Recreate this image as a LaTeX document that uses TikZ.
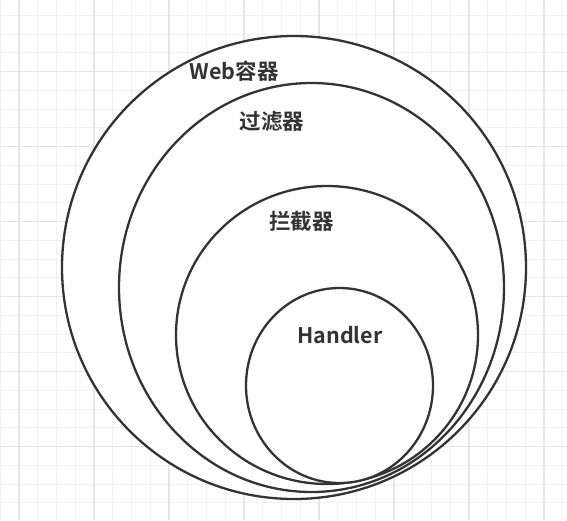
\documentclass[tikz,border=0pt]{standalone}
\usepackage{fontspec}
\newfontfamily\lblfont{Noto Sans CJK SC Bold}
\usetikzlibrary{shapes.geometric}
\definecolor{minorgrid}{HTML}{F2F2F2}
\definecolor{majorgrid}{HTML}{E6E6E6}
\definecolor{ink}{HTML}{333333}
\tikzset{
  ring/.style={shape=ellipse, draw=ink, fill=white, line width=2.3pt, inner sep=0pt, outer sep=0pt},
  lbl/.style={font=\lblfont\fontsize{21.5}{23}\selectfont, text=ink, inner sep=0pt},
  gminor/.style={draw=minorgrid, line width=1pt},
  gmajor/.style={draw=majorgrid, line width=1.2pt}
}
\begin{document}
\begin{tikzpicture}[x=1pt,y=-1pt]
\useasboundingbox (0,0) rectangle (567,520);
\clip (0,0) rectangle (567,520);
\fill[white] (0,0) rectangle (567,520);
\foreach \k in {0,...,30} { \draw[gminor] ({0.25+18.75*\k},0) -- ({0.25+18.75*\k},520); }
\foreach \k in {0,...,27} { \draw[gminor] (0,{15.45+18.75*\k}) -- (567,{15.45+18.75*\k}); }
\foreach \k in {0,...,7} { \draw[gmajor] ({19+75*\k},0) -- ({19+75*\k},520); }
\foreach \k in {0,...,7} { \draw[gmajor] (0,{-3.3+75*\k}) -- (567,{-3.3+75*\k}); }
\node[ring, minimum width=464pt, minimum height=463pt] (web) at (294,267.5) {};
\node[ring, minimum width=385pt, minimum height=409pt] (filter) at (311.5,287.5) {};
\node[ring, minimum width=302pt, minimum height=298pt] (inter) at (327,335) {};
\node[ring, minimum width=187pt, minimum height=195pt] (handler) at (339.5,385.5) {};
\node[lbl] (tweb) at (234,71.5) {Web容器};
\node[lbl] (tfilter) at (272,121.7) {过滤器};
\node[lbl] (tinter) at (301.3,221.7) {拦截器};
\node[lbl] (thandler) at (340,335.5) {Handler};
\end{tikzpicture}
\end{document}
